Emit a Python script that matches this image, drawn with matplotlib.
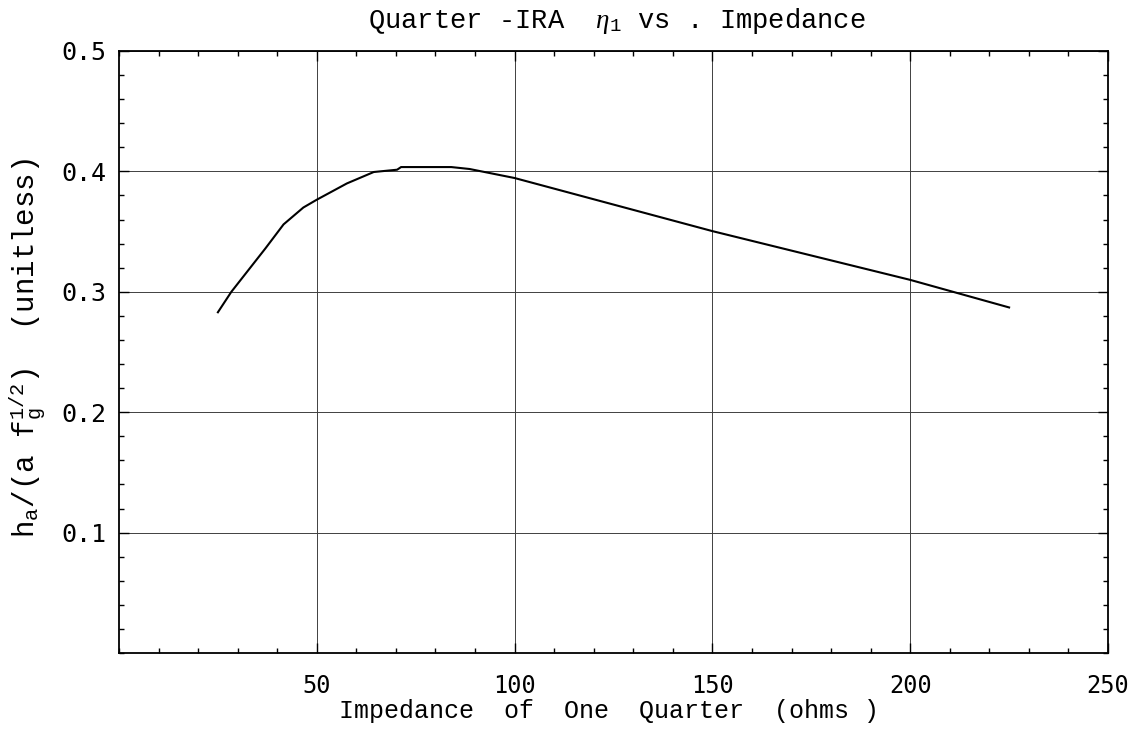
import matplotlib
matplotlib.use('Agg')
import matplotlib.pyplot as plt
from matplotlib.ticker import MultipleLocator

# Data
impedance = [25, 28.4, 37, 41.6, 46.6, 50, 57.6, 64.4, 70.3, 71.3,
             84, 88.6, 100, 150, 200, 225]
height = [0.283, 0.300, 0.336, 0.356, 0.370, 0.3765, 0.390, 0.3995, 0.4014, 0.4036,
          0.4036, 0.402, 0.3945, 0.3504, 0.3099, 0.287]

x_ticks = [50, 100, 150, 200, 250]
y_ticks = [0.1, 0.2, 0.3, 0.4, 0.5]

plt.rcParams['mathtext.fontset'] = 'custom'
plt.rcParams['mathtext.rm'] = 'Liberation Mono'
plt.rcParams['mathtext.it'] = 'Liberation Serif:italic'
plt.rcParams['mathtext.bf'] = 'Liberation Mono:bold'

mono = 'Liberation Mono'
W, H = 1136, 732

fig = plt.figure(figsize=(W / 100, H / 100), dpi=100)
ax = fig.add_axes([119 / W, 1 - 653 / H, (1108 - 119) / W, (653 - 51) / H])

ax.plot(impedance, height, color='black', lw=1.5)

ax.set_xlim(0, 250)
ax.set_ylim(0, 0.5)
ax.set_xticks(x_ticks)
ax.set_yticks(y_ticks)
ax.set_xticklabels([str(v) for v in x_ticks], family='DejaVu Sans Mono', fontsize=17)
ax.set_yticklabels([f'{v:.1f}' for v in y_ticks], family='DejaVu Sans Mono', fontsize=18)
ax.xaxis.set_minor_locator(MultipleLocator(10))
ax.yaxis.set_minor_locator(MultipleLocator(0.02))
ax.tick_params(which='both', direction='in', top=True, right=True, width=1)
ax.tick_params(which='major', length=7)
ax.tick_params(which='minor', length=3.5)
ax.tick_params(axis='x', which='major', pad=15)
ax.tick_params(axis='y', which='major', pad=9)

ax.grid(True, which='major', color='0.25', lw=0.7)
for s in ax.spines.values():
    s.set_linewidth(1.3)

# title, axis labels placed by hand to follow the reference
fig.text(617 / W, 1 - 21 / H, r'Quarter -IRA  $\eta_1$ vs . Impedance',
         family=mono, fontsize=19.5, ha='center', va='center')
fig.text(609 / W, 1 - 718 / H, 'Impedance  of  One  Quarter  (ohms )',
         family=mono, fontsize=18, ha='center', va='baseline')
fig.text(27 / W, 1 - 348 / H,
         r'h$_{\mathrm{a}}$/(a f$_{\mathrm{g}}^{\mathrm{1/2}}$)  (unitless)',
         family=mono, fontsize=21, rotation=90, ha='center', va='center')

fig.savefig('out.png', dpi=100)
plt.close(fig)
